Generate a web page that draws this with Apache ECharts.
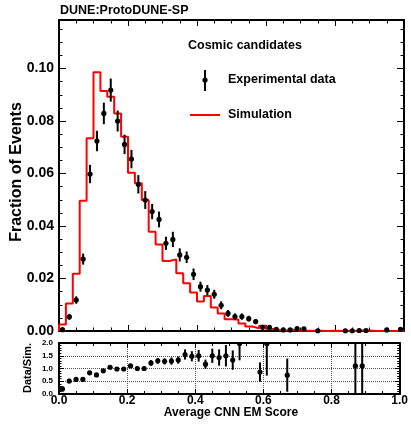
<!DOCTYPE html>
<html><head><meta charset="utf-8">
<script src="https://cdn.jsdelivr.net/npm/echarts@6/dist/echarts.min.js"></script>
<style>html,body{margin:0;padding:0;background:#fff}#c{width:411px;height:425px}</style>
</head><body><div id="c"></div>
<script>
// Bin centres of the Average CNN EM Score histogram (50 bins, width 0.02)
const binWidth = 0.02;
const binCenters = [0.01,0.03,0.05,0.07,0.09,0.11,0.13,0.15,0.17,0.19,
  0.21,0.23,0.25,0.27,0.29,0.31,0.33,0.35,0.37,0.39,
  0.41,0.43,0.45,0.47,0.49,0.51,0.53,0.55,0.57,0.59,
  0.61,0.63,0.65,0.67,0.69,0.71,0.73,0.75,0.77,0.79,
  0.81,0.83,0.85,0.87,0.89,0.91,0.93,0.95,0.97,0.99];
// Simulation (fraction of events)
const simFraction = [0.0025,0.0105,0.0218,0.0496,0.0734,0.0986,0.0914,0.0893,0.0829,0.0740,
  0.0603,0.0563,0.0499,0.0378,0.0330,0.0267,0.0273,0.0220,0.0182,0.0147,
  0.0112,0.0133,0.0090,0.0067,0.0045,0.0044,0.0029,0.0017,0.0010,0.0020,
  0.0008,0.0004,0.0002,0.0005,0.0001,0.0001,0.0001,0.0001,0.0000,0.0001,
  0.0000,0.0000,0.0000,0.0002,0.0002,0.0000,0.0000,0.0000,0.0000,0.0001];
// Experimental data (fraction of events) and its error
const dataFraction = [0.0005,0.0054,0.0118,0.0274,0.0598,0.0724,0.0829,0.0918,0.0800,0.0711,
  0.0655,0.0559,0.0499,0.0455,0.0425,0.0334,0.0349,0.0290,0.0281,0.0216,
  0.0169,0.0156,0.0140,0.0098,0.0067,0.0055,0.0055,0.0047,0.0036,0.0014,
  0.0014,0.0006,0.0004,0.0004,0.0009,0.0008,null,0.0001,null,null,
  null,0.0001,0.0001,0.0002,0.0002,null,null,0.0004,null,0.0006];
const dataError = [0.0004,0.0011,0.0014,0.0021,0.0035,0.0039,0.0041,0.0044,0.0040,0.0037,
  0.0035,0.0035,0.0034,0.0029,0.0030,0.0025,0.0029,0.0025,0.0022,0.0022,
  0.0019,0.0019,0.0017,0.0015,0.0013,0.0012,0.0012,0.0011,0.0010,0.0007,
  0.0007,0.0005,0.0004,0.0004,0.0006,0.0006,null,0.0003,null,null,
  null,0.0003,0.0003,0.0003,0.0003,null,null,0.0005,null,0.0006];
// Data / Simulation ratio and its error
const ratioValue = [0.20,0.51,0.57,0.57,0.83,0.75,0.91,1.05,0.98,0.98,
  1.10,1.00,1.00,1.22,1.30,1.28,1.29,1.33,1.55,1.48,
  1.50,1.17,1.50,1.43,1.50,1.33,1.98,null,null,0.86,
  1.97,null,null,0.74,null,null,null,null,null,null,
  null,null,null,1.10,1.10,null,null,null,null,null];
const ratioError = [0.10,0.09,0.07,0.07,0.07,0.06,0.07,0.07,0.07,0.07,
  0.08,0.08,0.08,0.11,0.11,0.12,0.14,0.14,0.20,0.20,
  0.23,0.18,0.28,0.32,0.42,0.38,0.66,null,null,0.38,
  1.25,null,null,0.65,null,null,null,null,null,null,
  null,null,null,1.60,1.60,null,null,null,null,null];

const FONT = 'Liberation Sans, Arial, Helvetica, sans-serif';

const simStep = [[binCenters[0] - binWidth / 2, 0]].concat(
  binCenters.map((c, i) => [c + binWidth / 2, simFraction[i]]));
const dataPts = [];
binCenters.forEach((c, i) => { if (dataFraction[i] != null) dataPts.push([c, dataFraction[i], dataError[i]]); });
const ratioPts = [];
binCenters.forEach((c, i) => { if (ratioValue[i] != null) ratioPts.push([c, ratioValue[i], ratioError[i]]); });

function errRender(params, api) {
  const x = api.value(0), y = api.value(1), e = api.value(2);
  const p = api.coord([x, y]);
  const lo = api.coord([x, y - e]);
  const hi = api.coord([x, y + e]);
  return {type: 'group', children: [
    {type: 'line', shape: {x1: p[0], y1: lo[1], x2: p[0], y2: hi[1]}, style: {stroke: '#000', lineWidth: 2}},
    {type: 'circle', shape: {cx: p[0], cy: p[1], r: 2.6}, style: {fill: '#000'}}
  ]};
}

const blk = {color: '#000', width: 2};
function xAx(grid, pos, labels, major, minor, split) {
  return {type: 'value', gridIndex: grid, position: pos, min: 0, max: 1, interval: 0.2,
    axisLine: {show: true, onZero: false, lineStyle: blk},
    axisTick: {show: true, inside: true, length: major, lineStyle: {color: '#000', width: 1}},
    minorTick: {show: true, splitNumber: 4, length: minor, lineStyle: {color: '#000', width: 1}},
    axisLabel: labels ? {show: true, margin: 1, color: '#000', fontSize: 12, fontWeight: 'bold', fontFamily: FONT,
      formatter: v => v.toFixed(1)} : {show: false},
    splitLine: split ? {show: true, lineStyle: {type: 'dotted', color: '#555', width: 1}} : {show: false},
    minorSplitLine: {show: false}};
}
function yAx(grid, pos, max, interval, len, line, labels, opts) {
  return Object.assign({type: 'value', gridIndex: grid, position: pos, min: 0, max: max, interval: interval,
    axisLine: {show: line, onZero: false, lineStyle: blk},
    axisTick: {show: true, inside: true, length: len, lineStyle: {color: '#000', width: 1}},
    axisLabel: labels || {show: false},
    splitLine: {show: false}}, opts || {});
}

const mainLabels = {show: true, margin: 5, color: '#000', fontSize: 14, fontWeight: 'bold', fontFamily: FONT,
  showMaxLabel: false, formatter: v => v.toFixed(2)};
const ratioLabels = {show: true, margin: 6, color: '#000', fontSize: 8, fontWeight: 'bold', fontFamily: FONT,
  formatter: v => v.toFixed(1)};
const ratioSplit = {splitLine: {show: true, lineStyle: {type: 'dotted', color: '#555', width: 1}},
  minorTick: {show: true, splitNumber: 5, length: 2.5, lineStyle: {color: '#000', width: 1}}};
const ratioMinor = {minorTick: {show: true, splitNumber: 5, length: 2.5, lineStyle: {color: '#000', width: 1}}};

function txt(text, x, y, size, align, rot) {
  return {type: 'text', x: x, y: y, rotation: rot || 0, z: 100,
    style: {text: text, fill: '#000', fontSize: size, fontWeight: 'bold', fontFamily: FONT,
      align: align, textAlign: align, verticalAlign: 'middle', textVerticalAlign: 'middle'}};
}

const chart = echarts.init(document.getElementById('c'), null, {renderer: 'canvas'});
chart.setOption({
  animation: false,
  backgroundColor: '#fff',
  grid: [
    {left: 59, top: 20, width: 345, height: 311},
    {left: 59, top: 343, width: 345, height: 51}
  ],
  xAxis: [
    xAx(0, 'bottom', false, 6, 3.5, false),
    xAx(0, 'top', false, 6, 3.5, false),
    xAx(1, 'bottom', true, 5, 3, true),
    xAx(1, 'top', false, 5, 3, false)
  ],
  yAxis: [
    yAx(0, 'left', 0.1185, 0.02, 7, true, mainLabels),
    yAx(0, 'left', 0.1185, 0.005, 3.5, false, null),
    yAx(0, 'right', 0.1185, 0.02, 7, true, null),
    yAx(0, 'right', 0.1185, 0.005, 3.5, false, null),
    yAx(1, 'left', 2, 0.5, 5, true, ratioLabels, ratioSplit),
    yAx(1, 'right', 2, 0.5, 5, true, null, ratioMinor)
  ],
  series: [
    {type: 'line', name: 'Simulation', xAxisIndex: 0, yAxisIndex: 0, data: simStep, step: 'start',
      showSymbol: false, symbol: 'none', z: 3, lineStyle: {color: '#ff0000', width: 2}},
    {type: 'custom', name: 'Experimental data', xAxisIndex: 0, yAxisIndex: 0, data: dataPts,
      renderItem: errRender, encode: {x: 0, y: 1}, z: 4},
    {type: 'custom', name: 'Data/Sim.', xAxisIndex: 2, yAxisIndex: 4, data: ratioPts,
      renderItem: errRender, encode: {x: 0, y: 1}, clip: true, z: 4}
  ],
  graphic: [
    txt('DUNE:ProtoDUNE-SP', 60, 10.5, 12.5, 'left'),
    txt('Fraction of Events', 17, 172, 16, 'center', Math.PI / 2),
    txt('Data/Sim.', 28, 368, 11, 'center', Math.PI / 2),
    txt('Average CNN EM Score', 231, 413, 12, 'center'),
    txt('Cosmic candidates', 188, 46, 12.5, 'left'),
    txt('Experimental data', 228, 80, 12.5, 'left'),
    txt('Simulation', 228, 115, 12.5, 'left'),
    {type: 'line', z: 100, shape: {x1: 205, y1: 70, x2: 205, y2: 91}, style: {stroke: '#000', lineWidth: 2}},
    {type: 'circle', z: 100, shape: {cx: 205, cy: 80, r: 2.6}, style: {fill: '#000'}},
    {type: 'line', z: 100, shape: {x1: 190, y1: 115, x2: 220, y2: 115}, style: {stroke: '#ff0000', lineWidth: 2}}
  ]
});
</script></body></html>
